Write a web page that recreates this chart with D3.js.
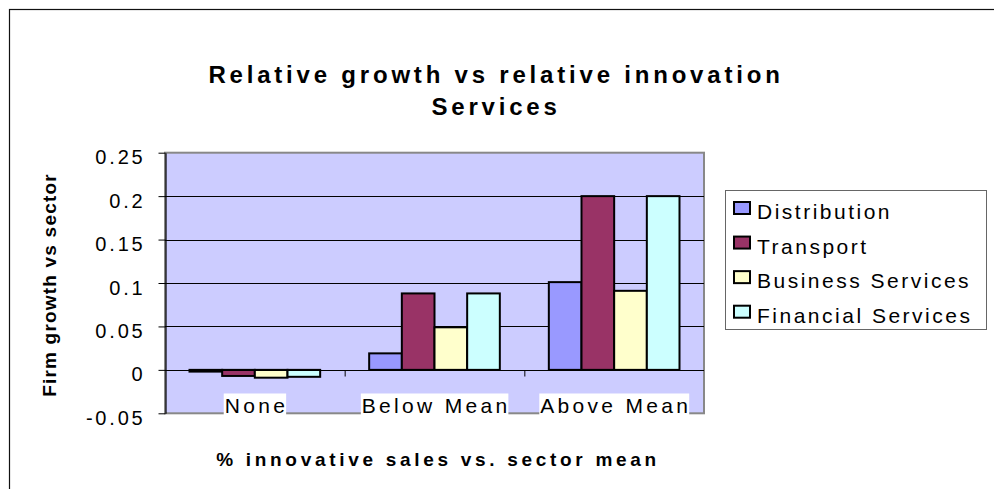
<!DOCTYPE html>
<html>
<head>
<meta charset="utf-8">
<script src="https://cdn.jsdelivr.net/npm/d3@7"></script>
<style>
  html, body { margin: 0; padding: 0; background: #fff; }
  svg { display: block; }
  text { font-family: "Liberation Sans", Arial, sans-serif; fill: #000; }
</style>
</head>
<body>
<svg id="chart" width="994" height="489"></svg>
<script>
// Innovation categories and sector series
const categories = ["None", "Below Mean", "Above Mean"];
const seriesNames = ["Distribution", "Transport", "Business Services", "Financial Services"];
const seriesColors = ["#9999FF", "#993366", "#FFFFCC", "#CCFFFF"];

// Firm growth relative to sector, one value per category
const distribution = [-0.002, 0.019, 0.101];
const transport = [-0.007, 0.088, 0.2];
const businessServices = [-0.009, 0.049, 0.091];
const financialServices = [-0.008, 0.088, 0.2];

const yTickValues = [-0.05, 0, 0.05, 0.1, 0.15, 0.2, 0.25];
const yTickLabels = ["-0.05", "0", "0.05", "0.1", "0.15", "0.2", "0.25"];

const titleLines = ["Relative growth vs relative innovation", "Services"];
const yTitle = "Firm growth vs sector";
const xTitle = "% innovative sales vs. sector mean";

const seriesValues = [distribution, transport, businessServices, financialServices];

const svg = d3.select("#chart");

// Outer chart frame (runs off the right and bottom edges)
svg.append("rect")
  .attr("x", 9.5).attr("y", 9.5)
  .attr("width", 1000).attr("height", 500)
  .attr("fill", "#fff").attr("stroke", "#111").attr("stroke-width", 1.2);

const plot = { left: 165, right: 704, top: 152.7, bottom: 413.3 };

const x = d3.scaleBand().domain(categories).range([plot.left, plot.right]).padding(0);
const xInner = d3.scaleBand().domain(seriesNames).range([0, x.bandwidth()])
  .paddingInner(0).paddingOuter(0.75);
const y = d3.scaleLinear().domain([-0.05, 0.25]).range([plot.bottom, plot.top]);

// Plot background
svg.append("rect")
  .attr("x", plot.left).attr("y", plot.top)
  .attr("width", plot.right - plot.left).attr("height", plot.bottom - plot.top)
  .attr("fill", "#CCCCFF").attr("stroke", "#888").attr("stroke-width", 2);

// Horizontal gridlines
svg.append("g")
  .selectAll("line")
  .data(yTickValues.filter(v => v > -0.05 && v < 0.25))
  .join("line")
  .attr("x1", plot.left).attr("x2", plot.right)
  .attr("y1", d => Math.round(y(d)) + 0.5).attr("y2", d => Math.round(y(d)) + 0.5)
  .attr("stroke", "#000").attr("stroke-width", 1);

// Bars
const groups = svg.append("g")
  .selectAll("g")
  .data(seriesNames)
  .join("g")
  .attr("fill", (d, i) => seriesColors[i]);

groups.selectAll("rect")
  .data((name, i) => categories.map((c, j) => ({ cat: c, name, value: seriesValues[i][j] })))
  .join("rect")
  .attr("x", d => x(d.cat) + xInner(d.name))
  .attr("width", xInner.bandwidth())
  .attr("y", d => y(Math.max(0, d.value)))
  .attr("height", d => Math.abs(y(d.value) - y(0)))
  .attr("stroke", "#000").attr("stroke-width", 2);

// Y axis
const yAxis = svg.append("g")
  .attr("transform", `translate(${plot.left + 0.5},0)`)
  .call(d3.axisLeft(y).tickValues(yTickValues).tickSize(7).tickSizeOuter(0)
    .tickFormat((d, i) => yTickLabels[i]));
yAxis.select(".domain").attr("stroke", "#000").attr("stroke-width", 1.2);
yAxis.selectAll(".tick line").attr("stroke", "#000");
yAxis.selectAll(".tick text")
  .attr("x", -20).attr("dy", "0.55em")
  .style("font-family", '"Liberation Sans", Arial, sans-serif')
  .style("font-size", "20px").style("letter-spacing", "2.8px")
  .attr("fill", "#000");

// Category axis along zero
const xAxis = svg.append("g")
  .attr("transform", `translate(0,${Math.round(y(0)) + 0.5})`);
xAxis.append("line")
  .attr("x1", plot.left).attr("x2", plot.right)
  .attr("stroke", "#000").attr("stroke-width", 1);
xAxis.selectAll("line.tick")
  .data(categories.slice(1))
  .join("line")
  .attr("class", "tick")
  .attr("x1", d => x(d) + 0.5).attr("x2", d => x(d) + 0.5)
  .attr("y1", 0).attr("y2", 6)
  .attr("stroke", "#000");

// Category labels on white backing boxes
const catLabels = svg.append("g");
categories.forEach(c => {
  const g = catLabels.append("g");
  const bg = g.append("rect").attr("fill", "#fff");
  const t = g.append("text")
    .attr("x", x(c) + x.bandwidth() / 2 + 1.6)
    .attr("y", 413)
    .attr("text-anchor", "middle")
    .style("font-size", "21px").style("letter-spacing", "3.3px")
    .text(c);
  const bb = t.node().getBBox();
  bg.attr("x", bb.x - 1).attr("y", 393.5)
    .attr("width", bb.width - 1).attr("height", 21.5);
});

// Title
svg.append("g").selectAll("text")
  .data(titleLines)
  .join("text")
  .attr("x", 496)
  .attr("y", (d, i) => 83 + i * 32)
  .attr("text-anchor", "middle")
  .style("font-size", "24px").style("font-weight", "bold").style("letter-spacing", "3.8px")
  .text(d => d);

// Axis titles
svg.append("text")
  .attr("transform", "translate(56,285) rotate(-90)")
  .attr("text-anchor", "middle")
  .style("font-size", "19px").style("font-weight", "bold").style("letter-spacing", "1.2px")
  .text(yTitle);

svg.append("text")
  .attr("x", 438).attr("y", 466)
  .attr("text-anchor", "middle")
  .style("font-size", "19px").style("font-weight", "bold").style("letter-spacing", "3.7px")
  .text(xTitle);

// Legend
const legend = svg.append("g");
legend.append("rect")
  .attr("x", 725.5).attr("y", 190.5)
  .attr("width", 261).attr("height", 139)
  .attr("fill", "#fff").attr("stroke", "#666").attr("stroke-width", 1);

const legendRow = d3.scalePoint().domain(seriesNames).range([219, 322.7]);
const items = legend.selectAll("g.item")
  .data(seriesNames)
  .join("g").attr("class", "item");
items.append("rect")
  .attr("x", 734).attr("y", d => legendRow(d) - 17)
  .attr("width", 16).attr("height", 12)
  .attr("fill", (d, i) => seriesColors[i])
  .attr("stroke", "#000").attr("stroke-width", 2);
items.append("text")
  .attr("x", 757).attr("y", d => legendRow(d))
  .style("font-size", "21px").style("letter-spacing", "2.5px")
  .text(d => d);
</script>
</body>
</html>
